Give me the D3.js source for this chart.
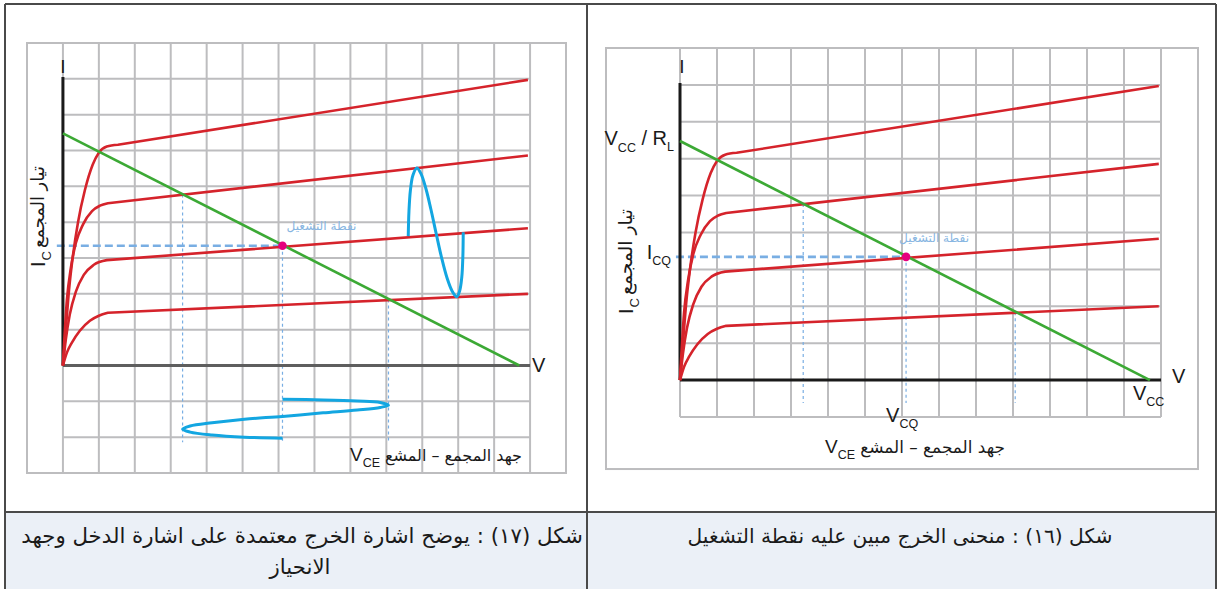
<!DOCTYPE html>
<html><head><meta charset="utf-8">
<script src="https://cdn.jsdelivr.net/npm/d3@7"></script>
<style>
body{margin:0;background:#fff;}
svg{display:block;}
text{font-family:"Liberation Sans",Arial,sans-serif;fill:#1a1a1a;}
.ar{font-family:"DejaVu Sans","Noto Sans",sans-serif;}
</style></head><body>
<svg id="c" width="1218" height="589"></svg>
<script>
// ---------- data (grid units: V along x, I along y) ----------
const curveTop   = [[0,0],[0.08,1.0],[0.17,2.11],[0.28,3.08],[0.42,4.0],[0.61,4.89],[0.83,5.61],[1.0,5.94],[1.22,6.11],[1.53,6.16],[12.94,7.97]];
const curveHigh  = [[0,0],[0.11,1.83],[0.22,2.72],[0.36,3.42],[0.56,3.94],[0.81,4.31],[1.03,4.46],[1.25,4.53],[12.94,5.86]];
const curveMid   = [[0,0],[0.08,0.72],[0.19,1.42],[0.36,2.06],[0.58,2.53],[0.86,2.81],[1.22,2.94],[12.94,3.83]];
const curveLow   = [[0,0],[0.11,0.36],[0.25,0.64],[0.47,0.97],[0.75,1.25],[1.0,1.39],[1.25,1.47],[12.94,2.0]];
const curves = [curveTop, curveHigh, curveMid, curveLow];
const loadLine = [[0,6.48],[12.7,0]];
const qPoint = [6.11,3.34];
const swingX = [3.33, 6.11, 9.06];          // dotted guide positions
const swingY = [4.77, 3.34, 1.84];          // where guides meet the load line
const inputSignal = [[9.61,3.61],[9.63,4.31],[9.67,4.89],[9.74,5.31],[9.85,5.51],[9.96,5.36],[10.10,4.94],[10.24,4.36],[10.39,3.67],[10.54,3.0],[10.69,2.44],[10.83,2.08],[10.96,1.92],[11.04,2.08],[11.10,2.47],[11.13,3.06],[11.14,3.72]];
const outputSignal = [[6.11,-0.94],[7.24,-0.96],[8.19,-0.99],[8.83,-1.03],[9.06,-1.11],[8.83,-1.17],[8.19,-1.24],[7.24,-1.32],[6.11,-1.42],[5.05,-1.50],[4.15,-1.60],[3.54,-1.69],[3.33,-1.78],[3.54,-1.86],[4.15,-1.94],[5.05,-2.0],[6.11,-2.03]];
const gridCols = d3.range(0,14);       // 0..13
const gridRowsLeft = d3.range(-2,9);   // -2..8
const gridRowsRight = d3.range(-1,9);  // -1..8
const captionLeft1 = "شكل (١٧) : يوضح اشارة الخرج معتمدة على اشارة الدخل وجهد";
const captionLeft2 = "الانحياز";
const captionRight = "شكل (١٦) : منحنى الخرج مبين عليه نقطة التشغيل";
const yLabelAr = "تيار المجمع";
const xLabelAr = "جهد المجمع – المشع";
const opLabel = "نقطة التشغيل";

const RED="#d5232b", GREEN="#3ca935", CYAN="#13a6e1", GUIDE="#79aee3", PINK="#e5007d", GRID="#bdbdbf";

const svg = d3.select('#c');

function fit(t, w){
  const n=t.node(); const fs=parseFloat(t.attr('font-size'));
  const L=n.getComputedTextLength();
  if(L>0) t.attr('font-size', fs*w/L);
  return t;
}

// caption background & table borders
svg.append('rect').attr('x',5).attr('y',512).attr('width',1211).attr('height',77).attr('fill','#ebf0f7');
const bc='#4a4a4a';
[[5,4,1216,4],[5,512,1216,512],[5,4,5,589],[587,4,587,589],[1216,4,1216,589]].forEach(s=>{
  svg.append('line').attr('x1',s[0]).attr('y1',s[1]).attr('x2',s[2]).attr('y2',s[3]).attr('stroke',bc).attr('stroke-width',2);
});

function panel(o){
  const g = svg.append('g');
  const x = d3.scaleLinear().domain(o.xDom).range(o.xRange);
  const y = d3.scaleLinear().domain(o.yDom).range(o.yRange);
  // frame
  g.append('rect').attr('x',x(o.xDom[0])).attr('y',y(o.yDom[1]))
    .attr('width',x(o.xDom[1])-x(o.xDom[0])).attr('height',y(o.frameMin)-y(o.yDom[1]))
    .attr('fill','none').attr('stroke',GRID).attr('stroke-width',2);
  // grid
  g.selectAll('.v').data(gridCols).enter().append('line')
    .attr('x1',d=>x(d)).attr('x2',d=>x(d)).attr('y1',y(o.gridYMin)).attr('y2',y(o.yDom[1]))
    .attr('stroke',GRID).attr('stroke-width',2);
  g.selectAll('.h').data(o.rows).enter().append('line')
    .attr('x1',x(0)).attr('x2',x(13)).attr('y1',d=>y(d)).attr('y2',d=>y(d))
    .attr('stroke',GRID).attr('stroke-width',2);
  // guides
  g.selectAll('.gd').data(swingX).enter().append('line')
    .attr('x1',d=>x(d)).attr('x2',d=>x(d)).attr('y1',(d,i)=>y(swingY[i])).attr('y2',y(o.guideMin))
    .attr('stroke',GUIDE).attr('stroke-width',1.2).attr('stroke-dasharray','3,3');
  g.append('line').attr('x1',x(o.hDashStart)).attr('x2',x(qPoint[0])).attr('y1',y(qPoint[1])).attr('y2',y(qPoint[1]))
    .attr('stroke',GUIDE).attr('stroke-width',2.6).attr('stroke-dasharray','8,4');
  // axes
  g.append('line').attr('x1',x(0)).attr('x2',x(13)).attr('y1',y(0)).attr('y2',y(0))
    .attr('stroke',o.xAxisColor).attr('stroke-width',3);
  g.append('line').attr('x1',x(0)).attr('x2',x(0)).attr('y1',y(0)).attr('y2',y(8.05))
    .attr('stroke','#1a1a1a').attr('stroke-width',3);
  // curves: rounded rise through the knee, then the straight active region
  const knee = d3.line().x(d=>x(d[0])).y(d=>y(d[1])).curve(d3.curveMonotoneX);
  g.selectAll('.c').data(curves).enter().append('path')
    .attr('d',d=>{ const last=d[d.length-1]; return knee(d.slice(0,-1))+'L'+x(last[0])+','+y(last[1]); })
    .attr('fill','none').attr('stroke',RED).attr('stroke-width',2.6).attr('stroke-linejoin','round');
  g.append('path').attr('d',d3.line().x(d=>x(d[0])).y(d=>y(d[1]))(loadLine))
    .attr('fill','none').attr('stroke',GREEN).attr('stroke-width',2.6);
  if(o.signals){
    const sl = d3.line().x(d=>x(d[0])).y(d=>y(d[1])).curve(d3.curveCatmullRom);
    [inputSignal, outputSignal].forEach(s=>{
      g.append('path').attr('d',sl(s)).attr('fill','none').attr('stroke',CYAN).attr('stroke-width',3);
    });
  }
  g.append('circle').attr('cx',x(qPoint[0])).attr('cy',y(qPoint[1])).attr('r',4.3).attr('fill',PINK);
  // operating point label
  fit(g.append('text').attr('class','ar').attr('x',x(qPoint[0])+o.opDx).attr('y',y(qPoint[1])+o.opDy)
    .attr('font-size',13).style('fill','#88b6e2').text(opLabel), 70);
  // I & V axis letters
  g.append('text').attr('x',x(0)+o.iDx).attr('y',y(8)+o.iDy).attr('text-anchor','middle').attr('font-size',19).text('I');
  g.append('text').attr('x',x(13)+o.vDx).attr('y',y(0)+o.vDy).attr('font-size',20).text('V');
  // x label
  const xa = g.append('text').attr('class','ar').attr('x',o.xLabEnd).attr('y',o.xLabBase).attr('text-anchor','end').attr('font-size',18).text(xLabelAr);
  fit(xa, o.xLabW);
  const vce = g.append('text').attr('x',o.xLabEnd-o.xLabW-5).attr('y',o.xLabBase).attr('text-anchor','end').attr('font-size',19);
  vce.append('tspan').text('V');
  vce.append('tspan').attr('font-size',12.5).attr('dy',6).text('CE');
  // y label (rotated)
  const yl = g.append('g').attr('transform',`translate(${o.yLabX},${o.yLabY}) rotate(-90)`);
  const ic = yl.append('text').attr('x',0).attr('y',0).attr('font-size',20);
  ic.append('tspan').text('I');
  ic.append('tspan').attr('font-size',13).attr('dy',6).attr('dx',1).text('C');
  fit(yl.append('text').attr('class','ar').attr('x',19).attr('y',-1).attr('font-size',18).text(yLabelAr), o.yLabW);
  return {g,x,y};
}

// ----- left panel (figure 17) -----
panel({xDom:[-1,14], xRange:[27,566], yDom:[-3,9], yRange:[473,43], frameMin:-3, gridYMin:-3,
  rows:gridRowsLeft, guideMin:-2.14, hDashStart:-0.17, xAxisColor:'#5e5e5e', signals:true,
  opDx:4, opDy:-16, iDx:0, iDy:-6, vDx:2, vDy:6.5,
  xLabEnd:522, xLabBase:461, xLabW:137, yLabX:45, yLabY:267, yLabW:82});

// ----- right panel (figure 16) -----
const R = panel({xDom:[-2,14], xRange:[606,1198], yDom:[-1,9], yRange:[417,48], frameMin:-2.41, gridYMin:-1,
  rows:gridRowsRight, guideMin:-0.62, hDashStart:-0.11, xAxisColor:'#1a1a1a', signals:false,
  opDx:-7, opDy:-15, iDx:2, iDy:-12, vDx:11, vDy:3,
  xLabEnd:1005, xLabBase:453, xLabW:145, yLabX:633, yLabY:314, yLabW:86});

// right panel annotations
(function(){
  const {g,x,y} = R;
  const y0 = y(loadLine[0][1]);
  const t1 = g.append('text').attr('x',x(0)-6).attr('y',y0+4).attr('text-anchor','end').attr('font-size',20);
  t1.append('tspan').text('V');
  t1.append('tspan').attr('font-size',12.5).attr('dy',7).text('CC');
  t1.append('tspan').attr('dy',-7).text(' / R');
  t1.append('tspan').attr('font-size',12.5).attr('dy',6).text('L');
  const t2 = g.append('text').attr('x',x(0)-9).attr('y',y(qPoint[1])+2).attr('text-anchor','end').attr('font-size',20);
  t2.append('tspan').text('I');
  t2.append('tspan').attr('font-size',12.5).attr('dy',6).text('CQ');
  const t3 = g.append('text').attr('x',x(qPoint[0])-20).attr('y',422).attr('font-size',20);
  t3.append('tspan').text('V');
  t3.append('tspan').attr('font-size',12.5).attr('dy',6).text('CQ');
  const t4 = g.append('text').attr('x',x(loadLine[1][0])-17).attr('y',400).attr('font-size',20);
  t4.append('tspan').text('V');
  t4.append('tspan').attr('font-size',12.5).attr('dy',6).text('CC');
})();

// captions
const c1 = svg.append('text').attr('class','ar').attr('direction','rtl').attr('x',302).attr('y',543).attr('text-anchor','middle').attr('font-size',20).text(captionLeft1);
fit(c1, 562);
svg.append('text').attr('class','ar').attr('direction','rtl').attr('x',300).attr('y',574).attr('text-anchor','middle').attr('font-size',c1.attr('font-size')).text(captionLeft2);
fit(svg.append('text').attr('class','ar').attr('direction','rtl').attr('x',900).attr('y',543).attr('text-anchor','middle').attr('font-size',20).text(captionRight), 425);
</script>
</body></html>
